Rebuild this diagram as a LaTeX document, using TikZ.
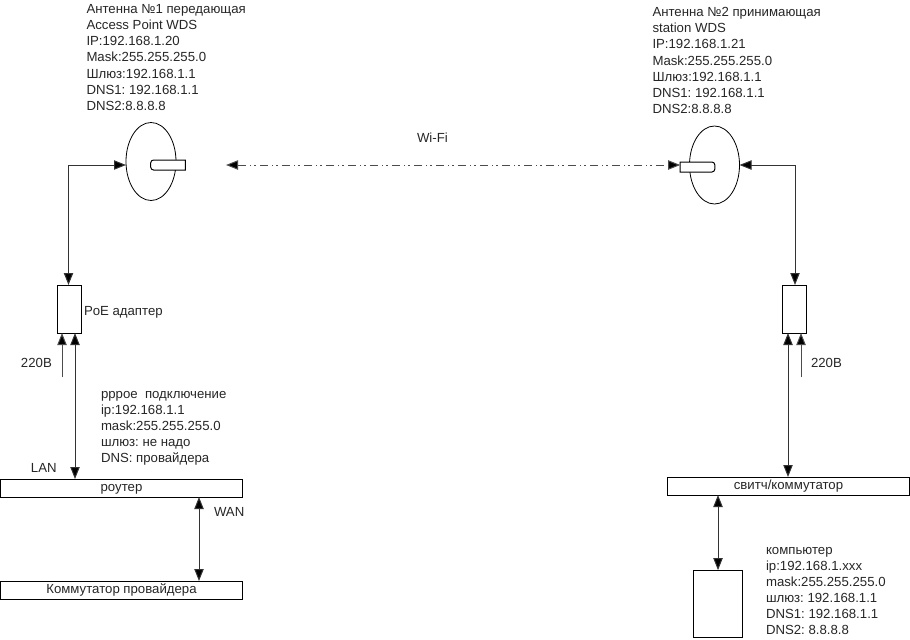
\documentclass[tikz,border=0pt]{standalone}
\usepackage{fontspec}
\setmainfont{Liberation Sans}
\usetikzlibrary{arrows.meta,shapes.geometric}
\frenchspacing
\tikzset{
  x=0.75pt,y=-0.75pt,
  boxn/.style={draw=black,line width=0.75pt,fill=white,rectangle,inner sep=0pt,outer sep=0pt},
  titled/.style={boxn,minimum width=181pt,minimum height=13.5pt,font=\fontsize{9.9}{12}\selectfont,text=black!85,text height=7.1pt,text depth=2pt},
  dishn/.style={draw=black,line width=0.6pt,ellipse,inner sep=0pt,outer sep=0pt,minimum width=37.5pt,minimum height=58.5pt},
  slotn/.style={fill=white,rectangle,inner sep=0pt,outer sep=0pt,minimum width=26pt,minimum height=7.5pt},
  slotline/.style={draw=black,line width=0.75pt},
  lbl/.style={inner sep=0pt,outer sep=0pt,anchor=west,font=\fontsize{9.9}{12}\selectfont,text=black!85},
  block/.style={inner sep=0pt,outer sep=0pt,anchor=north west,align=left,font=\fontsize{9.9}{12.08}\selectfont,text=black!85},
  link/.style={line width=0.75pt,draw=black!80,{Triangle[length=9pt,width=7pt,fill=black]}-{Triangle[length=9pt,width=7pt,fill=black]}},
  feed/.style={line width=0.75pt,draw=black!70,-{Triangle[length=9pt,width=7pt,fill=black]}},
  radio/.style={link,draw=black!70,dash pattern=on 6pt off 3pt on 1pt off 2.5pt on 1pt off 3pt}
}
\begin{document}
\begin{tikzpicture}
\useasboundingbox (0,0) rectangle (910,639);
% dishes
\node[dishn] (dishL) at (151,161.5) {};
\node[slotn] (slotL) at (168,165) {};
\draw[slotline] (slotL.north east) [rounded corners=2.2pt] -- (slotL.north west) -- (slotL.south west) [sharp corners] -- (slotL.south east) -- cycle;
\node[dishn] (dishR) at (714.5,165) {};
\node[slotn] (slotR) at (697.5,167) {};
\draw[slotline] (slotR.north west) [rounded corners=2.2pt] -- (slotR.north east) -- (slotR.south east) [sharp corners] -- (slotR.south west) -- cycle;
% boxes
\node[boxn,minimum width=18.4pt,minimum height=36pt] (poeL) at (69.3,309) {};
\node[boxn,minimum width=18.4pt,minimum height=36pt] (poeR) at (794.7,309) {};
\node[titled] (router) at (121.5,488) {роутер};
\node[titled] (prov) at (121.5,590) {Коммутатор провайдера};
\node[titled] (sw) at (788.5,486) {свитч/коммутатор};
\node[boxn,minimum width=37.2pt,minimum height=50.8pt] (pc) at (718,604) {};
% free ends
\coordinate (feedL) at (62,377);
\coordinate (feedR) at (801,377);
\coordinate (lanx) at (75,0);
\coordinate (swx) at (788,0);
\coordinate (wanx) at (199,0);
\coordinate (wifiL) at (226,165);
\coordinate (cornerL) at (68.5,165);
\coordinate (cornerR) at (795,165);
% connectors
\draw[link] (dishL.west |- cornerL) -- (cornerL) -- (poeL.north -| cornerL);
\draw[link] (dishR.east |- cornerR) -- (cornerR) -- (poeR.north -| cornerR);
\draw[feed] (feedL) -- (poeL.south -| feedL);
\draw[feed] (feedR) -- (poeR.south -| feedR);
\draw[link] (poeL.south -| lanx) -- (router.north -| lanx);
\draw[link] (poeR.south -| swx) -- (sw.north -| swx);
\draw[link] (router.south -| wanx) -- (prov.north -| wanx);
\draw[link] (sw.south -| pc) -- (pc.north);
\draw[radio] (wifiL) -- (slotR.west |- wifiL);
% labels
\node[block] (infoL) at (86.5,4.5) {Антенна №1 передающая\\Access Point WDS\\IP:192.168.1.20\\Mask:255.255.255.0\\Шлюз:192.168.1.1\\DNS1: 192.168.1.1\\DNS2:8.8.8.8};
\node[block] (infoR) at (652.5,7.5) {Антенна №2 принимающая\\station WDS\\IP:192.168.1.21\\Mask:255.255.255.0\\Шлюз:192.168.1.1\\DNS1: 192.168.1.1\\DNS2:8.8.8.8};
\node[lbl] (wifi) at (417,138) {Wi-Fi};
\node[lbl] (poetxt) at (84,312) {PoE адаптер};
\node[lbl] (v1) at (21,363) {220В};
\node[lbl] (v2) at (811,363) {220В};
\node[lbl] (lan) at (31,468) {LAN};
\node[lbl] (wan) at (214,512) {WAN};
\node[block] (ppp) at (101,391) {pppoe\ \ подключение\\ip:192.168.1.1\\mask:255.255.255.0\\шлюз: не надо\\DNS: провайдера};
\node[block] (pctxt) at (766,547) {компьютер\\ip:192.168.1.xxx\\mask:255.255.255.0\\шлюз: 192.168.1.1\\DNS1: 192.168.1.1\\DNS2: 8.8.8.8};
\end{tikzpicture}
\end{document}
